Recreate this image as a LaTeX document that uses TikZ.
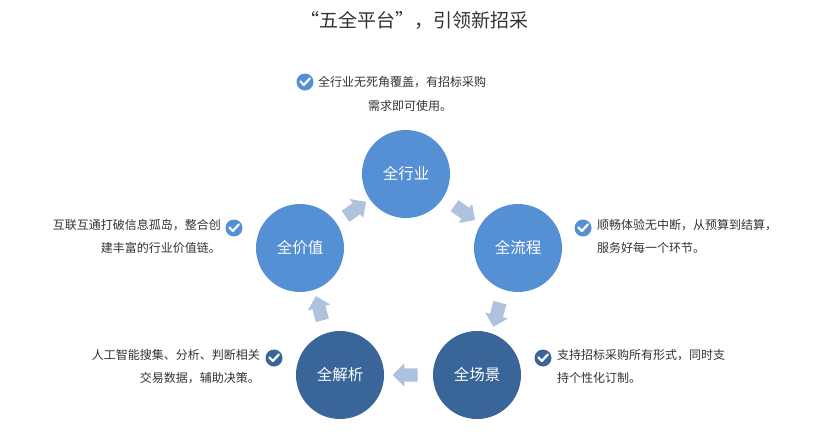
\documentclass[tikz,border=0pt]{standalone}
\usepackage{fontspec}
\setmainfont{Noto Sans CJK SC}
\usetikzlibrary{shapes.arrows,calc}
\definecolor{lightblue}{HTML}{5590D5}
\definecolor{darkblue}{HTML}{3A6598}
\definecolor{arrowgray}{HTML}{AFC2DD}
\definecolor{textgray}{HTML}{333333}
\tikzset{
  stage/.style={circle, minimum size=88pt, inner sep=0pt, text=white, font=\fontsize{15.5}{15}\selectfont},
  flow/.style={single arrow, fill=arrowgray, minimum height=25pt, inner sep=6.5pt,
    single arrow head extend=5pt, anchor=center},
  note/.style={text=textgray, font=\fontsize{12}{23}\selectfont, inner sep=0pt, align=left},
}
\newcommand*{\tick}[3]{%
\node[circle, fill=#3, minimum size=17pt, inner sep=0pt] (#1) at #2 {};
\draw[white, line width=2.2pt, line cap=round, line join=round]
  ($(#1)+(-4.5pt,0.5pt)$) -- ($(#1)+(-1.2pt,-3pt)$) -- ($(#1)+(4.8pt,3.5pt)$);}

\begin{document}
\begin{tikzpicture}[x=1pt, y=-1pt]
\useasboundingbox[fill=white] (0,0) rectangle (828,439);

\node[text=textgray, font=\fontsize{19}{19}\selectfont] (title) at (414,20) {“五全平台”，引领新招采};

% stages
\node[stage, fill=lightblue] (hangye) at (406,174) {全行业};
\node[stage, fill=lightblue] (liucheng) at (518,248) {全流程};
\node[stage, fill=darkblue] (changjing) at (477,375) {全场景};
\node[stage, fill=darkblue] (jiexi) at (340,375) {全解析};
\node[stage, fill=lightblue] (jiazhi) at (300,248) {全价值};

% arrows between stages
\node[flow, rotate=35] (a1) at ($(jiazhi)!0.5!(hangye)$) {};
\node[flow, rotate=-35] (a2) at ($(hangye)!0.5!(liucheng)$) {};
\node[flow, rotate=-105] (a3) at ($(liucheng)!0.5!(changjing)$) {};
\node[flow, rotate=180] (a4) at ($(changjing)!0.5!(jiexi)$) {};
\node[flow, rotate=105] (a5) at ($(jiexi)!0.5!(jiazhi)$) {};

% notes
\tick{t1}{(305,82)}{lightblue}
\node[note, anchor=west] (n1a) at (318,82) {全行业无死角覆盖，有招标采购};
\node[note] (n1b) at (410,106) {需求即可使用。};

\tick{t2}{(583,228)}{lightblue}
\node[note, anchor=north west] (n2) at (597,219) {顺畅体验无中断，从预算到结算，\\服务好每一个环节。};

\tick{t3}{(234,228)}{lightblue}
\node[note, anchor=north east, align=right] (n3) at (221,219) {互联互通打破信息孤岛，整合创\\建丰富的行业价值链。};

\tick{t4}{(274,358)}{darkblue}
\node[note, anchor=north east, align=right] (n4) at (260,349) {人工智能搜集、分析、判断相关\\交易数据，辅助决策。};

\tick{t5}{(543,358)}{darkblue}
\node[note, anchor=north west] (n5) at (557,349) {支持招标采购所有形式，同时支\\持个性化订制。};
\end{tikzpicture}
\end{document}
